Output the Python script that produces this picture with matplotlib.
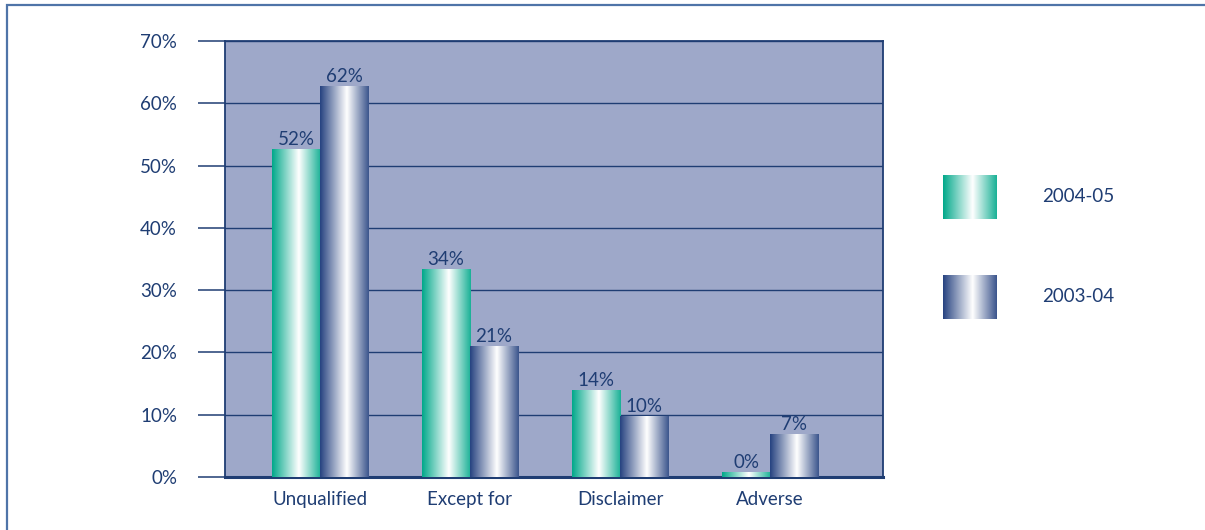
import numpy as np
import matplotlib.pyplot as plt
from matplotlib.patches import Rectangle

categories = ["Unqualified", "Except for", "Disclaimer", "Adverse"]
series_names = ["2004-05", "2003-04"]
values_0405 = [52.7, 33.4, 14.0, 0.8]
values_0304 = [62.7, 21.0, 9.8, 6.9]
labels_0405 = ["52%", "34%", "14%", "0%"]
labels_0304 = ["62%", "21%", "10%", "7%"]
yticks = [0, 10, 20, 30, 40, 50, 60, 70]

NAVY = "#1f3d73"
BG = "#9ea8c9"
GREEN = np.array([0, 168, 138]) / 255
BLUE = np.array([38, 66, 128]) / 255
FS = 13.5

plt.rcParams['font.family'] = ['Lato', 'DejaVu Sans']


def gradient(color, n=200):
    # horizontal "cylinder" shading: dark edges, white highlight right of centre
    t = np.linspace(0, 1, n)
    w = np.interp(t, [0, 0.08, 0.55, 0.6, 1.0], [0.0, 0.15, 1.0, 0.9, 0.1])
    rgb = color[None, :] * (1 - w[:, None]) + w[:, None]
    return rgb[None, :, :]


def shaded_bars(ax, x, heights, width, color):
    bars = ax.bar(x, heights, width, color="none", edgecolor="none", zorder=3)
    img = gradient(color)
    for b in bars:
        x0, y0 = b.get_x(), b.get_y()
        im = ax.imshow(img, extent=[x0, x0 + b.get_width(), y0, y0 + b.get_height()],
                       aspect="auto", zorder=3, interpolation="bilinear")
        im.set_clip_path(b)
    return bars


def main():
    fig = plt.figure(figsize=(12.05, 5.3), dpi=100)
    ax = fig.add_axes([225 / 1205, 53 / 530, 658 / 1205, 436 / 530])
    ax.set_facecolor(BG)

    x = np.arange(len(categories))
    w = 0.32
    shaded_bars(ax, x - w / 2, values_0405, w, GREEN)
    shaded_bars(ax, x + w / 2, values_0304, w, BLUE)

    for xi, h, lab in zip(x - w / 2, values_0405, labels_0405):
        ax.text(xi, h + 0.2, lab, ha="center", va="bottom", color=NAVY, fontsize=FS, zorder=4)
    for xi, h, lab in zip(x + w / 2, values_0304, labels_0304):
        ax.text(xi, h + 0.2, lab, ha="center", va="bottom", color=NAVY, fontsize=FS, zorder=4)

    ax.set_xlim(-0.633, 3.753)
    ax.set_ylim(0, 70)
    ax.set_yticks(yticks)
    ax.set_yticklabels([f"{v}%" for v in yticks])
    ax.set_xticks(x)
    ax.set_xticklabels(categories)
    ax.tick_params(axis="y", length=19.5, width=1.1, color=NAVY, labelcolor=NAVY,
                   labelsize=FS, pad=15)
    ax.tick_params(axis="x", length=0, labelcolor=NAVY, labelsize=FS, pad=10)
    ax.grid(axis="y", color=NAVY, linewidth=1.0, zorder=1)
    ax.set_axisbelow(True)
    for s in ax.spines.values():
        s.set_color(NAVY)
        s.set_linewidth(1.3)
    ax.spines["bottom"].set_linewidth(2.2)

    # legend with shaded swatches
    lax = fig.add_axes([0, 0, 1, 1])
    lax.axis("off")
    for (y0, col, name) in [(175, GREEN, series_names[0]), (275, BLUE, series_names[1])]:
        lax.imshow(gradient(col), extent=[943, 997, y0 + 44, y0], aspect="auto",
                   interpolation="bilinear")
        lax.text(1042, y0 + 21, name, ha="left", va="center", color=NAVY, fontsize=FS)
    lax.set_xlim(0, 1205)
    lax.set_ylim(530, 0)

    # outer frame
    fig.patches.append(Rectangle((7 / 1205, -0.05), 1.1, 0.05 + 1 - 4.5 / 530,
                                 transform=fig.transFigure, fill=False,
                                 edgecolor="#4f74a8", linewidth=1.6))

    fig.savefig("out.png", dpi=100)


if __name__ == "__main__":
    main()
